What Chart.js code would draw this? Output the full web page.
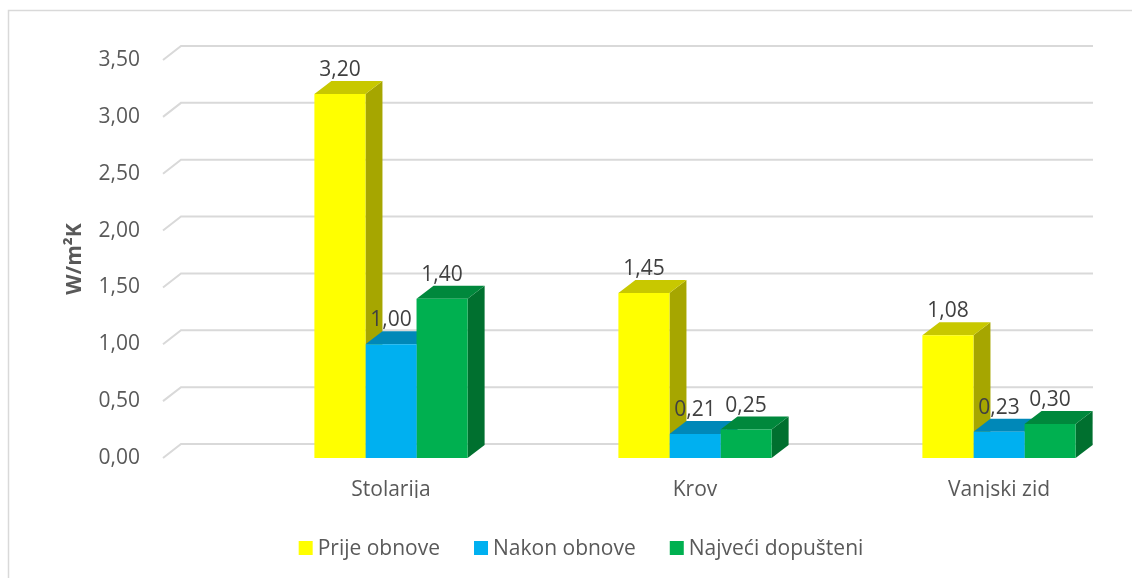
<!DOCTYPE html>
<html lang="hr">
<head>
<meta charset="UTF-8">
<title>U-vrijednosti</title>
<script src="https://cdn.jsdelivr.net/npm/chart.js@4.4.1/dist/chart.umd.min.js"></script>
<style>
  html, body { margin: 0; padding: 0; background: #fff; overflow: hidden; }
</style>
</head>
<body>
<canvas id="uChart" width="1132" height="578"></canvas>
<script>
// data
const categories = ['Stolarija', 'Krov', 'Vanjski zid'];
const seriesNames = ['Prije obnove', 'Nakon obnove', 'Najveći dopušteni'];
const prijeObnove = [3.20, 1.45, 1.08];
const nakonObnove = [1.00, 0.21, 0.23];
const najveciDopusteni = [1.40, 0.25, 0.30];
const yTicks = [0, 0.5, 1, 1.5, 2, 2.5, 3, 3.5];

const frontColors = ['#FFFF00', '#00B0F0', '#00B050'];
const topColors = ['#C8C800', '#0088B8', '#00883C'];
const sideColors = ['#A6A600', '#00709A', '#00702F'];

const FONT = "'Open Sans', sans-serif";
const textGray = '#595959';
const barDepth = { dx: 17, dy: -13 };
const wallDepth = { dx: 18, dy: -14 };

const fmt = v => v.toFixed(2).replace('.', ',');

const seriesValues = [prijeObnove, nakonObnove, najveciDopusteni];
const datasets = seriesValues.map((vals, s) => ({
    label: seriesNames[s],
    data: vals.map((v, i) => ({ x: i, y: v })),
    backgroundColor: frontColors[s],
    borderWidth: 0,
    categoryPercentage: 0.504,
    barPercentage: 1,
    clip: false
}));

const fake3d = {
    id: 'fake3d',
    beforeDatasetsDraw(chart) {
        const { ctx, chartArea: a, scales: { y } } = chart;
        ctx.save();
        // back wall gridlines with the little step at the front
        ctx.strokeStyle = '#D9D9D9';
        ctx.lineWidth = 2;
        yTicks.forEach(v => {
            const py = y.getPixelForValue(v);
            ctx.beginPath();
            ctx.moveTo(a.left, py);
            ctx.lineTo(a.left + wallDepth.dx, py + wallDepth.dy);
            ctx.lineTo(a.right + wallDepth.dx, py + wallDepth.dy);
            ctx.stroke();
        });
        // sides and tops of the bars, fronts come from chart.js afterwards
        const { dx, dy } = barDepth;
        chart.data.datasets.forEach((ds, s) => {
            chart.getDatasetMeta(s).data.forEach(bar => {
                const { x, y: top, base, width } = bar.getProps(['x', 'y', 'base', 'width'], true);
                const l = x - width / 2, r = x + width / 2;
                ctx.fillStyle = sideColors[s];
                ctx.beginPath();
                ctx.moveTo(r, top);
                ctx.lineTo(r + dx, top + dy);
                ctx.lineTo(r + dx, base + dy);
                ctx.lineTo(r, base);
                ctx.closePath();
                ctx.fill();
                ctx.fillStyle = topColors[s];
                ctx.beginPath();
                ctx.moveTo(l, top);
                ctx.lineTo(l + dx, top + dy);
                ctx.lineTo(r + dx, top + dy);
                ctx.lineTo(r, top);
                ctx.closePath();
                ctx.fill();
            });
        });
        ctx.restore();
    },
    afterDatasetsDraw(chart) {
        const ctx = chart.ctx;
        ctx.save();
        ctx.font = '21px ' + FONT;
        ctx.fillStyle = '#404040';
        ctx.textAlign = 'center';
        ctx.textBaseline = 'alphabetic';
        chart.data.datasets.forEach((ds, s) => {
            chart.getDatasetMeta(s).data.forEach((bar, i) => {
                ctx.fillText(fmt(seriesValues[s][i]), bar.x, bar.y - 18);
            });
        });
        ctx.restore();
    },
    afterDraw(chart) {
        const ctx = chart.ctx;
        ctx.save();
        // outer frame (only left and top are inside the picture)
        ctx.strokeStyle = '#D9D9D9';
        ctx.lineWidth = 1.5;
        ctx.beginPath();
        ctx.moveTo(8.5, 578);
        ctx.lineTo(8.5, 10.5);
        ctx.lineTo(1132, 10.5);
        ctx.stroke();

        // legend
        ctx.font = '21px ' + FONT;
        const box = 14, gap = 5, spacing = 34, centerX = 581;
        const widths = seriesNames.map(n => ctx.measureText(n).width);
        const total = widths.reduce((t, w) => t + box + gap + w, 0) + spacing * (seriesNames.length - 1);
        let x = centerX - total / 2;
        ctx.textBaseline = 'alphabetic';
        ctx.textAlign = 'left';
        seriesNames.forEach((n, s) => {
            ctx.fillStyle = frontColors[s];
            ctx.fillRect(x, 541, box, box);
            ctx.fillStyle = textGray;
            ctx.fillText(n, x + box + gap, 555);
            x += box + gap + widths[s] + spacing;
        });
        ctx.restore();
    }
};

new Chart(document.getElementById('uChart'), {
    type: 'bar',
    data: { datasets },
    options: {
        responsive: false,
        animation: false,
        layout: { padding: { top: 60, right: 57, bottom: 80, left: 0 } },
        plugins: {
            legend: { display: false },
            tooltip: { enabled: false }
        },
        scales: {
            x: {
                type: 'linear',
                min: -0.75,
                max: 2.25,
                offset: false,
                afterBuildTicks: s => { s.ticks = categories.map((c, i) => ({ value: i })); },
                ticks: {
                    callback: v => categories[v],
                    color: textGray,
                    font: { family: FONT, size: 21 },
                    padding: 19,
                    maxRotation: 0,
                    autoSkip: false
                },
                grid: { display: false, drawTicks: false },
                border: { display: false },
                afterFit: s => { s.height = 40; }
            },
            y: {
                min: 0,
                max: 3.5,
                afterBuildTicks: s => { s.ticks = yTicks.map(v => ({ value: v })); },
                ticks: {
                    callback: v => fmt(v),
                    color: textGray,
                    font: { family: FONT, size: 21 },
                    padding: 23
                },
                grid: { display: false, drawTicks: false },
                border: { display: false },
                title: {
                    display: true,
                    text: 'W/m²K',
                    color: textGray,
                    font: { family: FONT, size: 21, weight: 'bold' },
                    padding: { top: 62, bottom: 0 }
                },
                afterFit: s => { s.width = 163; }
            }
        }
    },
    plugins: [fake3d]
});
</script>
</body>
</html>
